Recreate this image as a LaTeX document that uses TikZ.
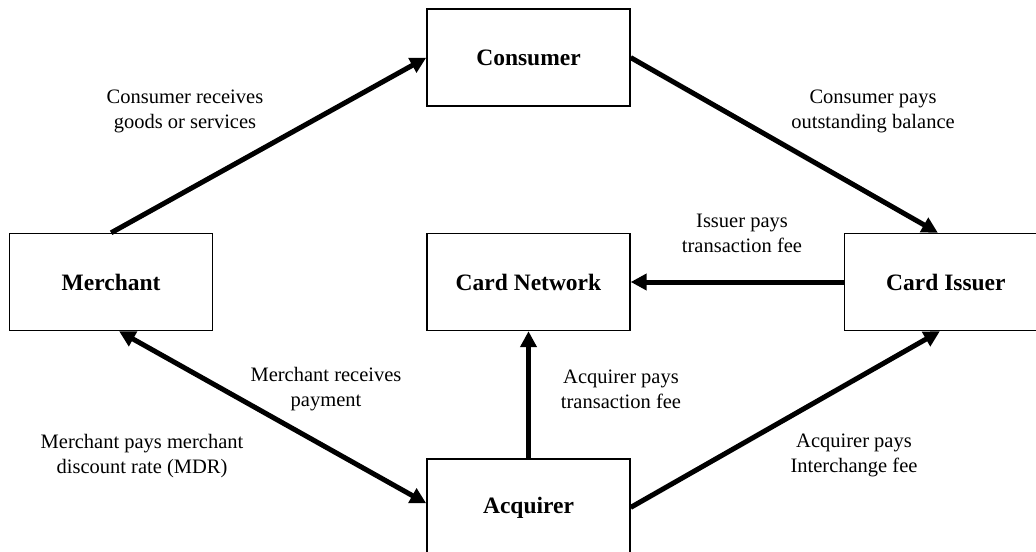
\documentclass[tikz,border=0pt]{standalone}
\usepackage{fontspec}
\setmainfont{Liberation Serif}
\usetikzlibrary{arrows.meta,positioning}

\begin{document}
\begin{tikzpicture}[
   party/.style={draw,line width=0.7pt,minimum width=101.5pt,minimum height=48.5pt,inner sep=0pt,font=\fontsize{11.75}{14}\selectfont\bfseries},
   note/.style={align=center,inner sep=0pt,font=\fontsize{10.25}{12.5}\selectfont},
   flow/.style={line width=2.5pt,-{Triangle[length=8pt,width=8pt]}},
   flowboth/.style={line width=2.5pt,{Triangle[length=8pt,width=8pt]}-{Triangle[length=8pt,width=8pt]}},
   node distance=63pt and 106.5pt]
  \useasboundingbox (-264.25pt,-134.5pt) rectangle (253.75pt,141pt);
  \node[party] (network) {Card Network};
  \node[party,above=of network] (consumer) {Consumer};
  \node[party,below=63.5pt of network] (acquirer) {Acquirer};
  \node[party,left=of network] (merchant) {Merchant};
  \node[party,right=of network] (issuer) {Card Issuer};
  % flows between the parties
  \draw[flow] (merchant.north) -- (consumer.west);
  \draw[flow] (consumer.east) -- ([xshift=-4pt]issuer.north);
  \draw[flow] (issuer.west) -- (network.east);
  \draw[flow] (acquirer.north) -- (network.south);
  \draw[flowboth] ([xshift=4pt]merchant.south) -- ([yshift=2pt]acquirer.west);
  \draw[flow] (acquirer.east) -- ([xshift=-3pt]issuer.south);
  % labels
  \node[note] (goods) at (-171.75pt,85.5pt) {Consumer receives\\goods or services};
  \node[note] (balance) at (172.25pt,85.5pt) {Consumer pays\\outstanding balance};
  \node[note] (issuerfee) at (106.75pt,24.5pt) {Issuer pays\\transaction fee};
  \node[note] (payment) at (-101.25pt,-53.5pt) {Merchant receives\\payment};
  \node[note] (acquirerfee) at (46.25pt,-53.5pt) {Acquirer pays\\transaction fee};
  \node[note] (mdr) at (-193.25pt,-87pt) {Merchant pays merchant\\discount rate (MDR)};
  \node[note] (interchange) at (162.75pt,-86.5pt) {Acquirer pays\\Interchange fee};
\end{tikzpicture}
\end{document}
